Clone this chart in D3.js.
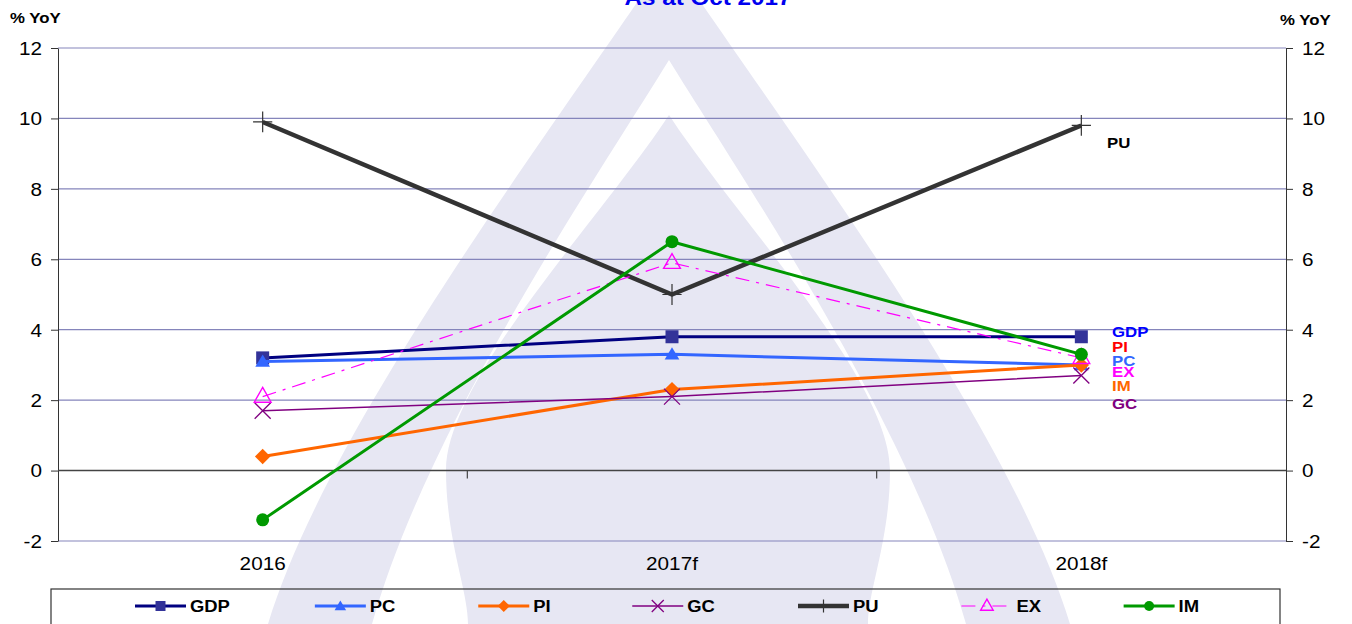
<!DOCTYPE html>
<html>
<head>
<meta charset="utf-8">
<script src="https://cdn.jsdelivr.net/npm/d3@7"></script>
<style>
  body { margin: 0; background: #fff; }
  svg { display: block; font-family: 'Liberation Sans', Arial, sans-serif; }
</style>
</head>
<body>
<div id="vis"></div>
<script>
// values
const categories = ['2016', '2017f', '2018f'];
const gdp = [3.2, 3.8, 3.8];
const pc = [3.1, 3.3, 3.0];
const pi = [0.4, 2.3, 3.0];
const gc = [1.7, 2.1, 2.7];
const pu = [9.9, 5.0, 9.8];
const ex = [2.1, 5.9, 3.2];
const im = [-1.4, 6.5, 3.3];
const yTicks = [-2, 0, 2, 4, 6, 8, 10, 12];

// labels at the right end (y in data units)
const endLabels = ['GDP', 'PI', 'PC', 'EX', 'IM', 'GC'];
const endLabelY = [3.94, 3.51, 3.11, 2.8, 2.4, 1.89];
const endLabelColors = ['#0000ff', '#ff0000', '#3366ff', '#ff00ff', '#ff6600', '#800080'];

const series = [
    { name: 'GDP', values: gdp, color: '#000080', width: 3, marker: 'square', mcolor: '#333399' },
    { name: 'PC', values: pc, color: '#3366ff', width: 3, marker: 'triangle', mcolor: '#3366ff' },
    { name: 'PI', values: pi, color: '#ff6600', width: 3, marker: 'diamond', mcolor: '#ff6600' },
    { name: 'GC', values: gc, color: '#800080', width: 1.5, marker: 'x', mcolor: '#800080' },
    { name: 'PU', values: pu, color: '#333333', width: 4.5, marker: 'plus', mcolor: '#333333' },
    { name: 'EX', values: ex, color: '#ff00ff', width: 1.2, marker: 'opentri', mcolor: '#ff00ff', dash: '14,7,3,7' },
    { name: 'IM', values: im, color: '#009900', width: 3, marker: 'circle', mcolor: '#009900' }
];

const dimensions = {
    width: 1352,
    height: 624,
    left: 58,
    right: 1286,
    top: 48,
    bottom: 541
};
const STRETCH = 1.15;

const svg = d3.select('#vis')
    .append('svg')
    .attr('width', dimensions.width)
    .attr('height', dimensions.height);

// faint logo watermark behind the chart
const wm = svg.append('g');
const wmFill = '#e7e7f3';
wm.append('path')
    .attr('d', 'M669,-45 C560,120 330,420 268,624 L1070,624 C1008,420 778,120 669,-45 Z')
    .attr('fill', wmFill);
wm.append('path')
    .attr('d', 'M669,60 C595,180 428,425 372,624 L966,624 C910,425 743,180 669,60 Z')
    .attr('fill', '#fff');
wm.append('path')
    .attr('d', 'M669,115 C600,220 446,380 446,470 C446,540 468,590 468,624 L868,624 C868,590 890,540 890,470 C890,380 738,220 669,115 Z')
    .attr('fill', wmFill);

const x = d3.scaleBand()
    .domain(categories)
    .range([dimensions.left, dimensions.right]);
const xc = d => x(d) + x.bandwidth() / 2;

const y = d3.scaleLinear()
    .domain([-2, 12])
    .range([dimensions.bottom, dimensions.top]);

function stretch(sel, k) {
    sel.each(function() {
        const w = this.getComputedTextLength();
        d3.select(this).attr('textLength', w * k).attr('lengthAdjust', 'spacingAndGlyphs');
    });
}

// gridlines
svg.append('g')
    .selectAll('line')
    .data(yTicks.filter(d => d !== 0))
    .join('line')
    .attr('x1', dimensions.left)
    .attr('x2', dimensions.right)
    .attr('y1', d => y(d))
    .attr('y2', d => y(d))
    .attr('stroke', '#8585bb')
    .attr('stroke-width', 1.2);

// y axes
const tickFmt = d => String(d);
const leftAxis = svg.append('g')
    .attr('transform', `translate(${dimensions.left},0)`)
    .call(d3.axisLeft(y).tickValues(yTicks).tickFormat(tickFmt).tickSize(7).tickPadding(9).tickSizeOuter(0));
const rightAxis = svg.append('g')
    .attr('transform', `translate(${dimensions.right},0)`)
    .call(d3.axisRight(y).tickValues(yTicks).tickFormat(tickFmt).tickSize(7).tickPadding(9).tickSizeOuter(0));
[leftAxis, rightAxis].forEach(a => {
    a.select('.domain').attr('stroke', '#333');
    a.selectAll('.tick line').attr('stroke', '#333');
    a.selectAll('.tick text')
        .attr('font-size', 18)
        .attr('fill', '#000')
        .attr('font-family', "'Liberation Sans', Arial, sans-serif")
        .attr('dy', '0.35em')
        .call(stretch, STRETCH);
});

// zero line with category ticks
svg.append('line')
    .attr('x1', dimensions.left)
    .attr('x2', dimensions.right)
    .attr('y1', y(0))
    .attr('y2', y(0))
    .attr('stroke', '#444')
    .attr('stroke-width', 1.5);
svg.append('g')
    .selectAll('line')
    .data(categories.slice(1))
    .join('line')
    .attr('x1', d => x(d))
    .attr('x2', d => x(d))
    .attr('y1', y(0))
    .attr('y2', y(0) + 8)
    .attr('stroke', '#444')
    .attr('stroke-width', 1.2);

// category labels
svg.append('g')
    .selectAll('text')
    .data(categories)
    .join('text')
    .attr('x', d => xc(d))
    .attr('y', 570)
    .attr('text-anchor', 'middle')
    .attr('font-size', 18)
    .text(d => d)
    .call(stretch, STRETCH);

// axis titles
svg.append('text')
    .attr('x', 10).attr('y', 23)
    .attr('font-size', 14).attr('font-weight', 'bold')
    .text('% YoY')
    .call(stretch, 1.2);
svg.append('text')
    .attr('x', 1280).attr('y', 25)
    .attr('font-size', 14).attr('font-weight', 'bold')
    .text('% YoY')
    .call(stretch, 1.2);

// chart title (cut off at the top)
svg.append('text')
    .attr('x', 708).attr('y', 5)
    .attr('text-anchor', 'middle')
    .attr('font-size', 22).attr('font-weight', 'bold')
    .attr('fill', '#0000ee')
    .text('As at Oct 2017')
    .call(stretch, 1.1);

function markerPath(type, s) {
    switch (type) {
    case 'square': return `M${-s},${-s}H${s}V${s}H${-s}Z`;
    case 'triangle': return `M0,${-s}L${s * 1.05},${s * 0.75}H${-s * 1.05}Z`;
    case 'diamond': return `M0,${-s * 1.1}L${s * 1.1},0L0,${s * 1.1}L${-s * 1.1},0Z`;
    case 'x': return `M${-s},${-s}L${s},${s}M${-s},${s}L${s},${-s}`;
    case 'plus': return `M${-s * 1.2},0H${s * 1.2}M0,${-s * 1.3}V${s * 1.3}`;
    case 'opentri': return `M0,${-s * 1.15}L${s * 1.05},${s * 0.7}H${-s * 1.05}Z`;
    case 'circle': return d3.symbol(d3.symbolCircle, Math.PI * s * s)();
    }
}
function styleMarker(sel, d) {
    const hollow = d.marker === 'x' || d.marker === 'plus' || d.marker === 'opentri';
    sel.attr('fill', hollow ? 'none' : d.mcolor)
        .attr('stroke', hollow ? d.mcolor : 'none')
        .attr('stroke-width', d.marker === 'x' ? 1.3 : (d.marker === 'opentri' ? 1.4 : 1.2));
}
const markerSize = { square: 6.5, triangle: 7, diamond: 7, x: 8, plus: 8, opentri: 8, circle: 6.5 };
const legendMarkerSize = { square: 5, triangle: 5.5, diamond: 5.5, x: 6, plus: 5, opentri: 6, circle: 5 };

const line = d3.line()
    .x((d, i) => xc(categories[i]))
    .y(d => y(d));

const plot = svg.append('g');
series.forEach(s => {
    const g = plot.append('g');
    g.append('path')
        .attr('d', line(s.values))
        .attr('fill', 'none')
        .attr('stroke', s.color)
        .attr('stroke-width', s.width)
        .attr('stroke-linejoin', 'round')
        .attr('stroke-dasharray', s.dash || null);
    g.selectAll('path.m')
        .data(s.values)
        .join('path')
        .attr('class', 'm')
        .attr('transform', (d, i) => `translate(${xc(categories[i])},${y(d)})`)
        .attr('d', markerPath(s.marker, markerSize[s.marker]))
        .call(styleMarker, s);
});

// right end labels
svg.append('g')
    .selectAll('text')
    .data(endLabels)
    .join('text')
    .attr('x', 1112)
    .attr('y', (d, i) => y(endLabelY[i]))
    .attr('dy', '0.35em')
    .attr('font-size', 14)
    .attr('font-weight', 'bold')
    .attr('fill', (d, i) => endLabelColors[i])
    .text(d => d)
    .call(stretch, 1.2);
svg.append('text')
    .attr('x', 1107)
    .attr('y', y(9.3))
    .attr('dy', '0.35em')
    .attr('font-size', 14)
    .attr('font-weight', 'bold')
    .text('PU')
    .call(stretch, 1.2);

// legend
svg.append('rect')
    .attr('x', 51).attr('y', 589)
    .attr('width', 1229).attr('height', 60)
    .attr('fill', 'none')
    .attr('stroke', '#333')
    .attr('stroke-width', 1.2);

const legend = svg.append('g');
let lx = 135;
const ly = 606;
series.forEach(s => {
    const g = legend.append('g');
    g.append('line')
        .attr('x1', lx).attr('x2', lx + 51)
        .attr('y1', ly).attr('y2', ly)
        .attr('stroke', s.color)
        .attr('stroke-width', s.width)
        .attr('stroke-dasharray', s.dash || null);
    g.append('path')
        .attr('transform', `translate(${lx + 25.5},${ly})`)
        .attr('d', markerPath(s.marker, legendMarkerSize[s.marker]))
        .call(styleMarker, s);
    const t = g.append('text')
        .attr('x', lx + 55)
        .attr('y', ly)
        .attr('dy', '0.35em')
        .attr('font-size', 16)
        .attr('font-weight', 'bold')
        .text(s.name)
        .call(stretch, STRETCH);
    lx += 55 + t.node().getComputedTextLength() * STRETCH + 79;
});
</script>
</body>
</html>
